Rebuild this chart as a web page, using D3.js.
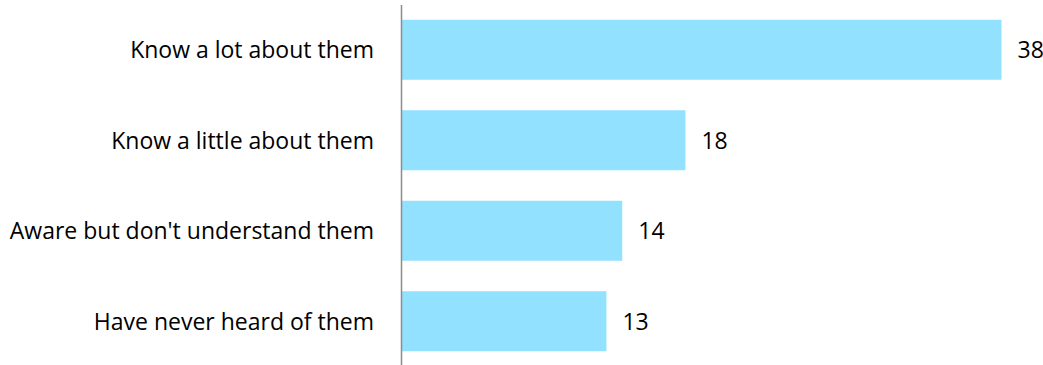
<!DOCTYPE html>
<html>
<head>
<meta charset="utf-8">
<script src="https://cdn.jsdelivr.net/npm/d3@7"></script>
<style>
  html, body { margin: 0; padding: 0; background: #fff; }
  svg { display: block; }
  text { font-family: "Open Sans", sans-serif; fill: #000; }
</style>
</head>
<body>
<svg id="chart" width="1043" height="365"></svg>
<script>
// Awareness categories, top to bottom
const categories = [
  "Know a lot about them",
  "Know a little about them",
  "Aware but don't understand them",
  "Have never heard of them"
];
// Share of respondents for each category
const values = [38, 18, 14, 13];

const W = 1043, H = 365;
const axisX = 401;
const fontSize = 23;

const svg = d3.select("#chart");

const x = d3.scaleLinear()
  .domain([0, 38])
  .range([axisX, 1001.5]);

const y = d3.scaleBand()
  .domain(categories)
  .range([4.5, 366.5])
  .paddingInner(0.337)
  .paddingOuter(0.337 / 2);

const rows = categories.map((c, i) => ({ cat: c, val: values[i] }));

// Bars
svg.append("g")
  .selectAll("rect")
  .data(rows)
  .join("rect")
  .attr("x", x(0))
  .attr("y", d => y(d.cat))
  .attr("width", d => x(d.val) - x(0))
  .attr("height", y.bandwidth())
  .attr("fill", "#91e1ff");

// Value labels at the end of each bar
svg.append("g")
  .selectAll("text")
  .data(rows)
  .join("text")
  .attr("x", d => x(d.val) + 16)
  .attr("y", d => y(d.cat) + y.bandwidth() / 2)
  .attr("dy", "0.36em")
  .attr("font-size", fontSize)
  .text(d => d.val);

// Category axis on the left
const yAxis = d3.axisLeft(y).tickSize(0).tickPadding(27);
const gAxis = svg.append("g")
  .attr("transform", `translate(${axisX},0)`)
  .call(yAxis);
gAxis.select(".domain").remove();
gAxis.selectAll("text")
  .attr("font-size", fontSize)
  .attr("font-family", "'Open Sans', sans-serif")
  .attr("fill", "#000")
  .attr("dy", "0.36em");

// Vertical baseline
svg.append("line")
  .attr("x1", axisX + 0.5).attr("x2", axisX + 0.5)
  .attr("y1", 5).attr("y2", H)
  .attr("stroke", "#8c8c8c")
  .attr("stroke-width", 1.5);
</script>
</body>
</html>
